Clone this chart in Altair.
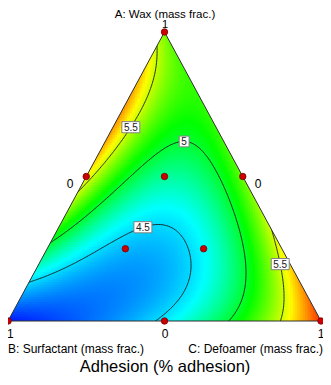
import numpy as np
import pandas as pd
import altair as alt

alt.data_transformers.disable_max_rows()

# ---------------- data ----------------
# Scheffe cubic model in pseudo components A (Wax), B (Surfactant), C (Defoamer)
VERTEX_RESP = [5.35, 3.95, 6.0]          # response at A=1, B=1, C=1
QUAD_AB, QUAD_AC, QUAD_BC = 3.85, -1.53, -1.7
CUB_AB, CUB_AC, CUB_BC = 1.0, -0.44, 0.5
SPECIAL_ABC = -18.0
CONTOUR_LEVELS = [4.5, 5.0, 5.5]

# design points (mixture fractions)
DESIGN_A = [1.0, 0.0, 0.0, 0.5, 0.5, 0.0, 0.5, 0.25, 0.25]
DESIGN_B = [0.0, 1.0, 0.0, 0.5, 0.0, 0.5, 0.25, 0.5, 0.25]
DESIGN_C = [0.0, 0.0, 1.0, 0.0, 0.5, 0.5, 0.25, 0.25, 0.5]

# contour labels: level, approx position (u, v) in triangle coords
LABEL_LEVELS = [5.5, 5.0, 4.5, 5.5]
LABEL_TEXT = ["5.5", "5", "4.5", "5.5"]
LABEL_U = [0.367, 0.565, 0.428, 0.882]
LABEL_V = [0.685, 0.644, 0.336, 0.197]

COLOR_STOPS = [3.9, 4.6, 5.1, 5.6, 6.1]
COLOR_RANGE = ["#0000ff", "#00ffff", "#00ff00", "#ffff00", "#ff0000"]

# ---------------- layout ----------------
W, H = 315, 369
X_RANGE = [0, 313]
Y_RANGE = [313, 24]


def model(a, b, c):
    return (VERTEX_RESP[0] * a + VERTEX_RESP[1] * b + VERTEX_RESP[2] * c
            + a * b * (QUAD_AB + CUB_AB * (a - b))
            + a * c * (QUAD_AC + CUB_AC * (a - c))
            + b * c * (QUAD_BC + CUB_BC * (b - c))
            + SPECIAL_ABC * a * b * c)


def uv_to_abc(u, v):
    a = v
    c = u - v / 2.0
    b = 1.0 - a - c
    return a, b, c


def inside(u, v, tol=0.0):
    return (v >= -tol) & (v <= 1 + tol) & (u >= v / 2 - tol) & (u <= 1 - v / 2 + tol)


# ---------------- heat map cells ----------------
NU, NV = 125, 116
du, dv = 1.0 / NU, 1.0 / NV
rows = []
for j in range(-1, NV + 1):
    vc = (j + 0.5) * dv
    for i in range(-1, NU + 1):
        uc = (i + 0.5) * du
        if vc < -dv or vc > 1 + dv:
            continue
        if uc < vc / 2 - du or uc > 1 - vc / 2 + du:
            continue
        a, b, c = uv_to_abc(uc, vc)
        rows.append((uc - du * 0.8, uc + du * 0.8, vc - dv * 0.8, vc + dv * 0.8, model(a, b, c)))
cells = pd.DataFrame(rows, columns=["u0", "u1", "v0", "v1", "val"])

# ---------------- contours (marching squares) ----------------
gu = np.linspace(-0.02, 1.02, 200)
gv = np.linspace(-0.02, 1.02, 200)
GU, GV = np.meshgrid(gu, gv)
GA, GB, GC = uv_to_abc(GU, GV)
F = model(GA, GB, GC)

segs = []
for lev in CONTOUR_LEVELS:
    for j in range(len(gv) - 1):
        for i in range(len(gu) - 1):
            corners = [(i, j), (i + 1, j), (i + 1, j + 1), (i, j + 1)]
            pts = []
            for k in range(4):
                (i0, j0), (i1, j1) = corners[k], corners[(k + 1) % 4]
                f0, f1 = F[j0, i0] - lev, F[j1, i1] - lev
                if f0 * f1 < 0:
                    t = f0 / (f0 - f1)
                    pts.append((gu[i0] + t * (gu[i1] - gu[i0]), gv[j0] + t * (gv[j1] - gv[j0])))
            pairs = []
            if len(pts) >= 2:
                pairs.append((pts[0], pts[1]))
            if len(pts) == 4:
                pairs.append((pts[2], pts[3]))
            for p, q in pairs:
                mu, mv = (p[0] + q[0]) / 2, (p[1] + q[1]) / 2
                if inside(mu, mv, 0.004):
                    segs.append((lev, p[0], p[1], q[0], q[1]))
contours = pd.DataFrame(segs, columns=["level", "u", "v", "u2", "v2"])

# snap labels onto their contour
lab_rows = []
for lev, txt_, lu, lv in zip(LABEL_LEVELS, LABEL_TEXT, LABEL_U, LABEL_V):
    sub = contours[contours.level == lev]
    mu = (sub.u + sub.u2) / 2
    mv = (sub.v + sub.v2) / 2
    k = int(np.argmin((mu - lu) ** 2 + (mv - lv) ** 2))
    lab_rows.append((txt_, float(mu.iloc[k]), float(mv.iloc[k]), len(txt_) > 1))
labels = pd.DataFrame(lab_rows, columns=["text", "u", "v", "wide"])

# design points
pts = pd.DataFrame({"a": DESIGN_A, "b": DESIGN_B, "c": DESIGN_C})
pts["u"] = pts.c + pts.a / 2
pts["v"] = pts.a

xs = alt.Scale(domain=[0, 1], range=X_RANGE)
ys = alt.Scale(domain=[0, 1], range=Y_RANGE)

heat = alt.Chart(cells).mark_rect(strokeWidth=0).encode(
    x=alt.X("u0:Q", scale=xs, axis=None), x2="u1:Q",
    y=alt.Y("v0:Q", scale=ys, axis=None), y2="v1:Q",
    color=alt.Color("val:Q", scale=alt.Scale(domain=COLOR_STOPS, range=COLOR_RANGE,
                                             interpolate="rgb", clamp=True), legend=None),
)

lines = alt.Chart(contours).mark_rule(color="#1a1a1a", strokeWidth=0.9).encode(
    x=alt.X("u:Q", scale=xs, axis=None), x2="u2:Q",
    y=alt.Y("v:Q", scale=ys, axis=None), y2="v2:Q",
)

# white masks hiding cells outside the triangle
edge_v = pd.DataFrame({"v": [-0.03, 1.03]})
left_mask = alt.Chart(edge_v).transform_calculate(
    x1="datum.v/2 - 0.03", x2="datum.v/2"
).mark_area(orient="horizontal", color="white", opacity=1).encode(
    y=alt.Y("v:Q", scale=ys, axis=None), x=alt.X("x1:Q", scale=xs, axis=None), x2="x2:Q")
right_mask = alt.Chart(edge_v).transform_calculate(
    x1="1 - datum.v/2", x2="1 - datum.v/2 + 0.03"
).mark_area(orient="horizontal", color="white", opacity=1).encode(
    y=alt.Y("v:Q", scale=ys, axis=None), x=alt.X("x1:Q", scale=xs, axis=None), x2="x2:Q")
box_mask = alt.Chart(pd.DataFrame({"u0": [-0.03, 0.4], "u1": [1.03, 0.6],
                                   "v0": [-0.03, 1.0], "v1": [0.0, 1.05]})).mark_rect(
    color="white", strokeWidth=0).encode(
    x=alt.X("u0:Q", scale=xs, axis=None), x2="u1:Q",
    y=alt.Y("v0:Q", scale=ys, axis=None), y2="v1:Q")

outline = alt.Chart(pd.DataFrame({"u": [0.5, 0.0, 1.0, 0.5], "v": [1.0, 0.0, 0.0, 1.0],
                                  "o": [0, 1, 2, 3]})).mark_line(
    color="#303030", strokeWidth=1).encode(
    x=alt.X("u:Q", scale=xs, axis=None), y=alt.Y("v:Q", scale=ys, axis=None), order="o:Q")

dots = alt.Chart(pts).mark_point(filled=True, fill="#cc0000", stroke="#7a0000",
                                 strokeWidth=0.8, size=42, opacity=1).encode(
    x=alt.X("u:Q", scale=xs, axis=None), y=alt.Y("v:Q", scale=ys, axis=None))

box_wide = alt.Chart(labels[labels.wide]).mark_point(
    shape="M-1,-0.62H1V0.62H-1Z", size=324, fill="white", filled=True,
    stroke="#808080", strokeWidth=1, opacity=1).encode(
    x=alt.X("u:Q", scale=xs, axis=None), y=alt.Y("v:Q", scale=ys, axis=None))
box_narrow = alt.Chart(labels[~labels.wide]).mark_point(
    shape="M-0.55,-0.6H0.55V0.6H-0.55Z", size=324, fill="white", filled=True,
    stroke="#808080", strokeWidth=1, opacity=1).encode(
    x=alt.X("u:Q", scale=xs, axis=None), y=alt.Y("v:Q", scale=ys, axis=None))
lab_text = alt.Chart(labels).mark_text(fontSize=10, font="Liberation Sans", color="#202020",
                                       baseline="middle", align="center", dy=0.5).encode(
    x=alt.X("u:Q", scale=xs, axis=None), y=alt.Y("v:Q", scale=ys, axis=None), text="text:N")


def txt(s, x, y, size=12, align="center", baseline="middle"):
    return alt.Chart(pd.DataFrame({"t": [s]})).mark_text(
        fontSize=size, font="Liberation Sans", color="black", align=align, baseline=baseline
    ).encode(x=alt.value(x), y=alt.value(y), text="t:N")


texts = [
    txt("A: Wax (mass frac.)", 157, 6.5, 11.5),
    txt("1", 157, 17, 11),
    txt("0", 62, 176, 12),
    txt("0", 250, 176, 12),
    txt("1", -1, 326, 12, align="left"),
    txt("0", 157, 326, 12),
    txt("1", 313, 326, 12),
    txt("B: Surfactant (mass frac.)", 0, 341, 12, align="left"),
    txt("C: Defoamer (mass frac.)", 315, 341, 12, align="right"),
    txt("Adhesion (% adhesion)", 157, 359, 16.5),
]

chart = alt.layer(heat, lines, left_mask, right_mask, box_mask, outline, dots,
                  box_wide, box_narrow, lab_text, *texts).properties(
    width=W, height=H, autosize=alt.AutoSizeParams(type="none"), padding=0
).configure_view(strokeWidth=0)

chart.save("out.html", embed_options={"renderer": "svg", "actions": False})
